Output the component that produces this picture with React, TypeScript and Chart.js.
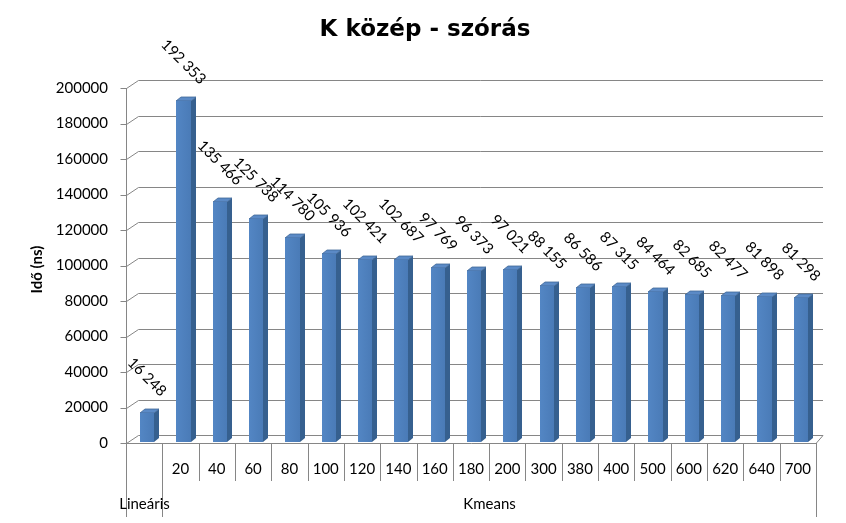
import React, { useEffect, useRef } from "react";
import { Chart, registerables } from "chart.js";

Chart.register(...registerables);

const chartTitle = "K közép - szórás";
const yAxisTitle = "Idő (ns)";
const categoryLabels = ["", "20", "40", "60", "80", "100", "120", "140", "160", "180", "200", "300", "380", "400", "500", "600", "620", "640", "700"];
const groupLabels = ["Lineáris", "Kmeans"];
const groupSizes = [1, 18];
const values = [16248, 192353, 135466, 125738, 114780, 105936, 102421, 102687, 97769, 96373, 97021, 88155, 86586, 87315, 84464, 82685, 82477, 81898, 81298];
const yTicks = [0, 20000, 40000, 60000, 80000, 100000, 120000, 140000, 160000, 180000, 200000];

const FONT = "Lato, 'Open Sans', sans-serif";
const TITLE_FONT = "'DejaVu Sans', Lato, sans-serif";
const GRID = "#868686";
const fmt = (v: number) => String(v).replace(/\B(?=(\d{3})+(?!\d))/g, " ");

const DX = 12, DY = -8; // wall depth
const BDX = 5, BDY = -4; // bar depth
const BAR_SHIFT = 3;

const plugin = {
  id: "excel3d",
  beforeDraw(chart: any) {
    const { ctx, chartArea: a, scales } = chart;
    const y = scales.y;
    ctx.save();
    ctx.fillStyle = "#ffffff";
    ctx.fillRect(0, 0, chart.width, chart.height);
    ctx.strokeStyle = GRID;
    ctx.lineWidth = 1;
    const L = Math.round(a.left) + 0.5;
    yTicks.forEach((t) => {
      const py = Math.round(y.getPixelForValue(t)) + 0.5;
      ctx.beginPath();
      ctx.moveTo(L - 6, py);
      ctx.lineTo(L, py);
      ctx.lineTo(L + DX, py + DY);
      ctx.lineTo(a.right + 7, py + DY);
      ctx.stroke();
    });
    const by = Math.round(y.getPixelForValue(0)) + 0.5;
    ctx.beginPath();
    ctx.moveTo(L, by);
    ctx.lineTo(a.right, by);
    ctx.lineTo(a.right + 7, by + DY);
    ctx.stroke();
    ctx.beginPath();
    ctx.moveTo(L, Math.round(y.getPixelForValue(yTicks[yTicks.length - 1])));
    ctx.lineTo(L, a.bottom + 74);
    ctx.stroke();
    ctx.restore();
  },
  afterDatasetsDraw(chart: any) {
    const { ctx } = chart;
    const meta = chart.getDatasetMeta(0);
    ctx.save();
    meta.data.forEach((el: any, i: number) => {
      const p = el.getProps(["x", "y", "width", "base"], true);
      const l = Math.round(p.x - p.width / 2 + BAR_SHIFT);
      const r = Math.round(p.x + p.width / 2 + BAR_SHIFT);
      const t = Math.round(p.y) - 1;
      const b = Math.round(p.base) - 1;
      // side
      ctx.fillStyle = "#36608f";
      ctx.beginPath();
      ctx.moveTo(r, t);
      ctx.lineTo(r + BDX, t + BDY);
      ctx.lineTo(r + BDX, b + BDY);
      ctx.lineTo(r, b);
      ctx.closePath();
      ctx.fill();
      // top
      ctx.fillStyle = "#5b8ac6";
      ctx.beginPath();
      ctx.moveTo(l, t);
      ctx.lineTo(l + BDX, t + BDY);
      ctx.lineTo(r + BDX, t + BDY);
      ctx.lineTo(r, t);
      ctx.closePath();
      ctx.fill();
      ctx.strokeStyle = "#3f6797";
      ctx.lineWidth = 0.8;
      ctx.stroke();
      // front
      const g = ctx.createLinearGradient(l, 0, r, 0);
      g.addColorStop(0, "#5386c4");
      g.addColorStop(1, "#4a7bb7");
      ctx.fillStyle = g;
      ctx.fillRect(l, t, r - l, b - t);
      // label
      ctx.font = `15px ${FONT}`;
      const text = fmt(values[i]);
      const w = ctx.measureText(text).width;
      const boxH = (w + 15) * Math.SQRT1_2;
      const cx = (l + r) / 2;
      const cy = t - 14 - boxH / 2;
      ctx.save();
      ctx.translate(cx, cy);
      ctx.rotate(Math.PI / 4);
      ctx.fillStyle = "#000";
      ctx.textAlign = "center";
      ctx.textBaseline = "middle";
      ctx.fillText(text, 0, 0);
      ctx.restore();
    });
    ctx.restore();
  },
  afterDraw(chart: any) {
    const { ctx, chartArea: a, scales } = chart;
    const x = scales.x, y = scales.y;
    ctx.save();
    // y tick labels
    ctx.fillStyle = "#000";
    ctx.font = `15px ${FONT}`;
    ctx.textAlign = "right";
    ctx.textBaseline = "middle";
    yTicks.forEach((t) => {
      ctx.fillText(String(t), a.left - 18, y.getPixelForValue(t));
    });
    // y title
    ctx.save();
    ctx.translate(37, (a.top + a.bottom) / 2 + 4);
    ctx.rotate(-Math.PI / 2);
    ctx.font = `bold 15px ${FONT}`;
    ctx.textAlign = "center";
    ctx.fillText(yAxisTitle, 0, 0);
    ctx.restore();
    // title
    ctx.font = `bold 23px ${TITLE_FONT}`;
    ctx.textAlign = "center";
    ctx.textBaseline = "alphabetic";
    ctx.fillText(chartTitle, 425, 36);
    // category labels & dividers
    const n = categoryLabels.length;
    const cw = (a.right - a.left) / n;
    const boundary = (i: number) => Math.round(a.left + cw * i) + 0.5;
    ctx.strokeStyle = GRID;
    ctx.lineWidth = 1;
    const groupStarts: number[] = [0];
    groupSizes.forEach((s, gi) => groupStarts.push(groupStarts[gi] + s));
    for (let i = 0; i <= n; i++) {
      const full = groupStarts.includes(i);
      ctx.beginPath();
      ctx.moveTo(boundary(i), a.bottom);
      ctx.lineTo(boundary(i), a.bottom + (full ? 74 : 38));
      ctx.stroke();
    }
    ctx.fillStyle = "#000";
    ctx.font = `15px ${FONT}`;
    ctx.textAlign = "center";
    ctx.textBaseline = "middle";
    categoryLabels.forEach((lab, i) => {
      ctx.fillText(lab, x.getPixelForValue(i), a.bottom + 26);
    });
    groupLabels.forEach((lab, gi) => {
      const s = boundary(groupStarts[gi]);
      const e = boundary(groupStarts[gi + 1]);
      ctx.fillText(lab, (s + e) / 2, a.bottom + 61);
    });
    ctx.restore();
  },
};

export default function App() {
  const ref = useRef<HTMLCanvasElement>(null);
  useEffect(() => {
    if (!ref.current) return;
    const chart = new Chart(ref.current, {
      type: "bar",
      data: {
        labels: categoryLabels.map((c) => (c === "" ? groupLabels[0] : c)),
        datasets: [
          {
            data: values,
            backgroundColor: "rgba(0,0,0,0)",
            borderWidth: 0,
            barPercentage: 0.39,
            categoryPercentage: 1,
          },
        ],
      },
      options: {
        responsive: false,
        animation: false,
        devicePixelRatio: 1,
        layout: { padding: { left: 126, right: 30, top: 88, bottom: 80 } },
        plugins: { legend: { display: false }, tooltip: { enabled: false }, title: { display: false } },
        scales: {
          x: { display: false, offset: true },
          y: { display: false, min: 0, max: 200000 },
        },
      },
      plugins: [plugin],
    });
    return () => chart.destroy();
  }, []);
  return (
    <div style={{ position: "fixed", left: 0, top: 0, width: 846, height: 523, background: "#fff" }}>
      <canvas ref={ref} width={846} height={523} />
    </div>
  );
}
